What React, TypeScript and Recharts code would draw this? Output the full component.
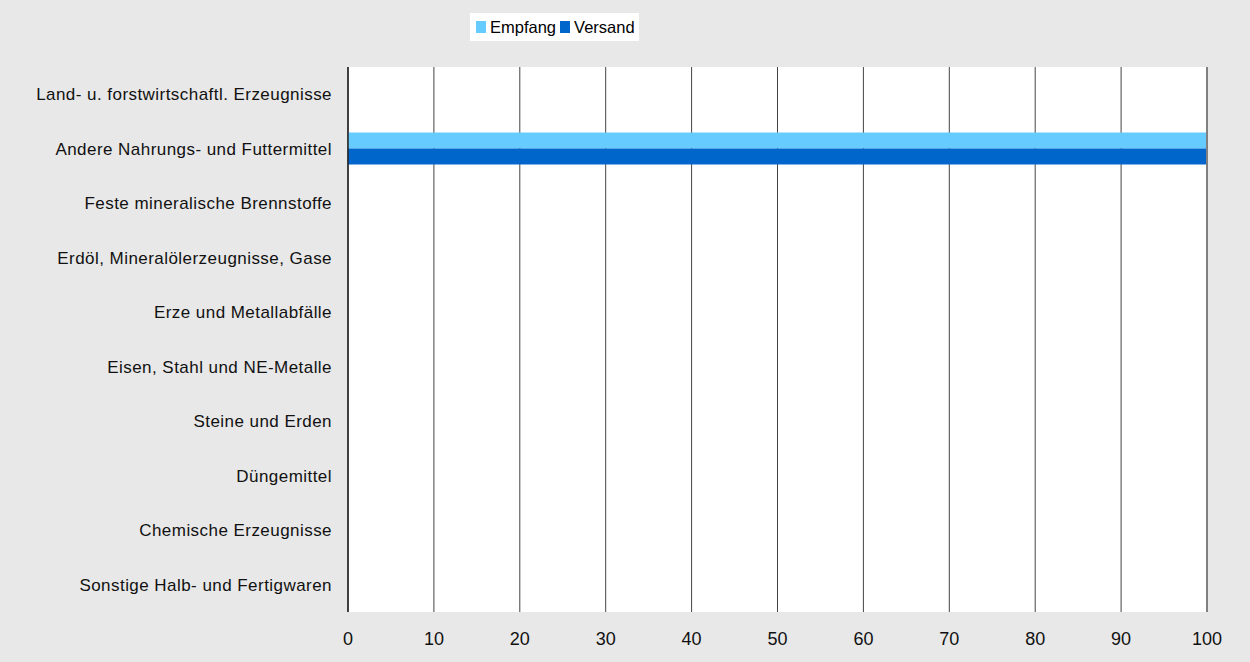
import {
  BarChart,
  Bar,
  XAxis,
  YAxis,
  CartesianGrid,
  ReferenceLine,
  Legend,
} from 'recharts'

const categories = [
  'Land- u. forstwirtschaftl. Erzeugnisse',
  'Andere Nahrungs- und Futtermittel',
  'Feste mineralische Brennstoffe',
  'Erdöl, Mineralölerzeugnisse, Gase',
  'Erze und Metallabfälle',
  'Eisen, Stahl und NE-Metalle',
  'Steine und Erden',
  'Düngemittel',
  'Chemische Erzeugnisse',
  'Sonstige Halb- und Fertigwaren',
]
const empfang = [0, 100, 0, 0, 0, 0, 0, 0, 0, 0]
const versand = [0, 100, 0, 0, 0, 0, 0, 0, 0, 0]
const xTicks = [0, 10, 20, 30, 40, 50, 60, 70, 80, 90, 100]

const EMPFANG = '#66ccff'
const VERSAND = '#0066cc'
const FONT = '"Liberation Sans", Arial, sans-serif'

const data = categories.map((name, i) => ({
  name,
  empfang: empfang[i],
  versand: versand[i],
}))

function LegendBox() {
  const item = (color: string, label: string) => (
    <span style={{ display: 'inline-flex', alignItems: 'center', marginRight: 4 }}>
      <span style={{ width: 10, height: 12, background: color, display: 'inline-block', marginRight: 4 }} />
      <span>{label}</span>
    </span>
  )
  return (
    <div
      style={{
        position: 'absolute',
        left: 470,
        top: 13,
        width: 169,
        height: 28,
        background: '#fff',
        display: 'flex',
        alignItems: 'center',
        paddingLeft: 6,
        boxSizing: 'border-box',
        fontFamily: FONT,
        fontSize: 16.5,
        color: '#000',
      }}
    >
      {item(EMPFANG, 'Empfang')}
      {item(VERSAND, 'Versand')}
    </div>
  )
}

export default function App() {
  return (
    <div
      style={{
        position: 'absolute',
        left: 0,
        top: 0,
        width: 1250,
        height: 662,
        background: '#e8e8e8',
        fontFamily: FONT,
      }}
    >
      <BarChart
        width={1250}
        height={662}
        data={data}
        layout="vertical"
        margin={{ top: 67, right: 43, bottom: 0, left: 0 }}
        barGap={0}
        barSize={16}
      >
        <CartesianGrid horizontal={false} stroke="#444" fill="#fff" />
        <XAxis
          type="number"
          domain={[0, 100]}
          ticks={xTicks}
          interval={0}
          axisLine={false}
          tickLine={false}
          height={50}
          tick={{ fill: '#111', fontSize: 18, fontFamily: FONT }}
          tickMargin={14}
        />
        <YAxis
          type="category"
          dataKey="name"
          width={348}
          axisLine={false}
          tickLine={false}
          interval={0}
          tick={{ fill: '#111', fontSize: 17, fontFamily: FONT, letterSpacing: 0.45 }}
          tickMargin={10}
        />
        <ReferenceLine x={0} stroke="#222" strokeWidth={1.5} />
        <ReferenceLine x={100} stroke="#808080" strokeWidth={2} />
        <Legend content={() => null} />
        <Bar dataKey="empfang" name="Empfang" fill={EMPFANG} isAnimationActive={false} />
        <Bar dataKey="versand" name="Versand" fill={VERSAND} isAnimationActive={false} />
      </BarChart>
      <LegendBox />
    </div>
  )
}
